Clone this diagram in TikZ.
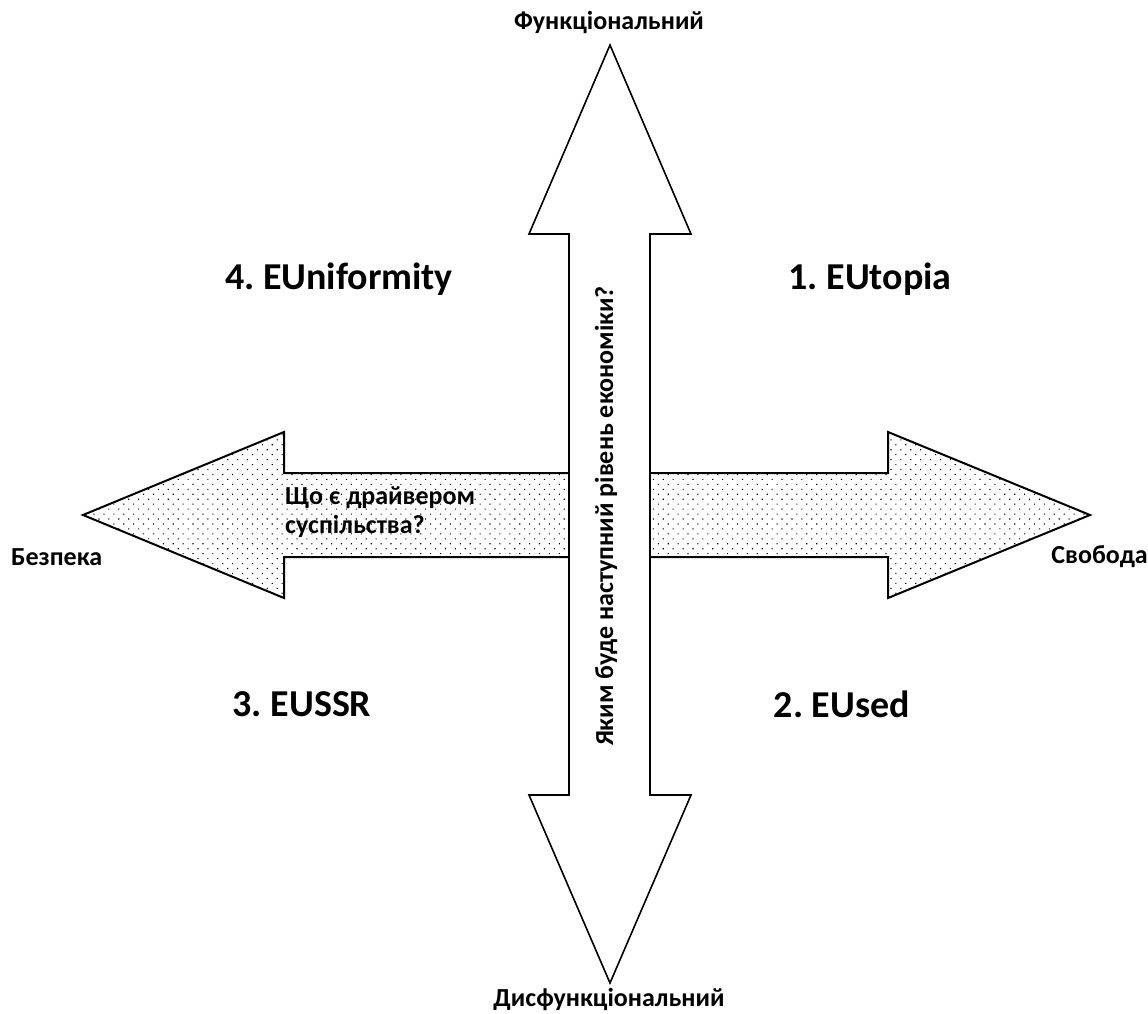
\documentclass[tikz,border=0pt]{standalone}
\usepackage{fontspec}
\setmainfont{Carlito}
\usetikzlibrary{patterns.meta}
\tikzset{
  quad/.style={font=\fontsize{38}{44}\selectfont\bfseries\frenchspacing, inner sep=0pt},
  pole/.style={font=\fontsize{26}{30}\selectfont\bfseries, inner sep=0pt},
  inlabel/.style={font=\fontsize{26}{29}\selectfont\bfseries, inner sep=0pt, align=left},
  harrow/.style={draw=black, line width=2pt, line join=miter, pattern={Dots[radius=0.8pt, distance=7pt, angle=45]}},
  varrow/.style={draw=black, line width=1.6pt, line join=miter, fill=white}
}
\begin{document}
\begin{tikzpicture}[x=1pt, y=-1pt]
\useasboundingbox (0,0) rectangle (1148,1014);
% horizontal double arrow (dotted)
\draw[harrow] (83,515) -- (284,432) -- (284,473) -- (888,473) -- (888,432) -- (1090,515)
  -- (888,598) -- (888,557) -- (284,557) -- (284,598) -- cycle;
% vertical double arrow (white)
\draw[varrow] (610,45) -- (691,234) -- (650,234) -- (650,795) -- (691,795) -- (610,983)
  -- (529,795) -- (569,795) -- (569,234) -- (529,234) -- cycle;
% texts
\node[pole] (top) at (609,22) {Функціональний};
\node[pole] (bottom) at (609,999) {Дисфункціональний};
\node[pole, anchor=west] (left) at (11,557) {Безпека};
\node[pole, anchor=east] (right) at (1148,557) {Свобода};
\node[quad] (q4) at (339,279) {4. EUniformity};
\node[quad] (q1) at (870,279) {1. EUtopia};
\node[quad] (q3) at (302,704) {3. EUSSR};
\node[quad] (q2) at (842,704) {2. EUsed};
\node[inlabel, anchor=west] (drv) at (285,512) {Що є драйвером\\суспільства?};
\node[font=\fontsize{26}{30}\selectfont\bfseries, inner sep=0pt, rotate=90] (econ) at (606,516) {Яким буде наступний рівень економіки?};
\end{tikzpicture}
\end{document}
